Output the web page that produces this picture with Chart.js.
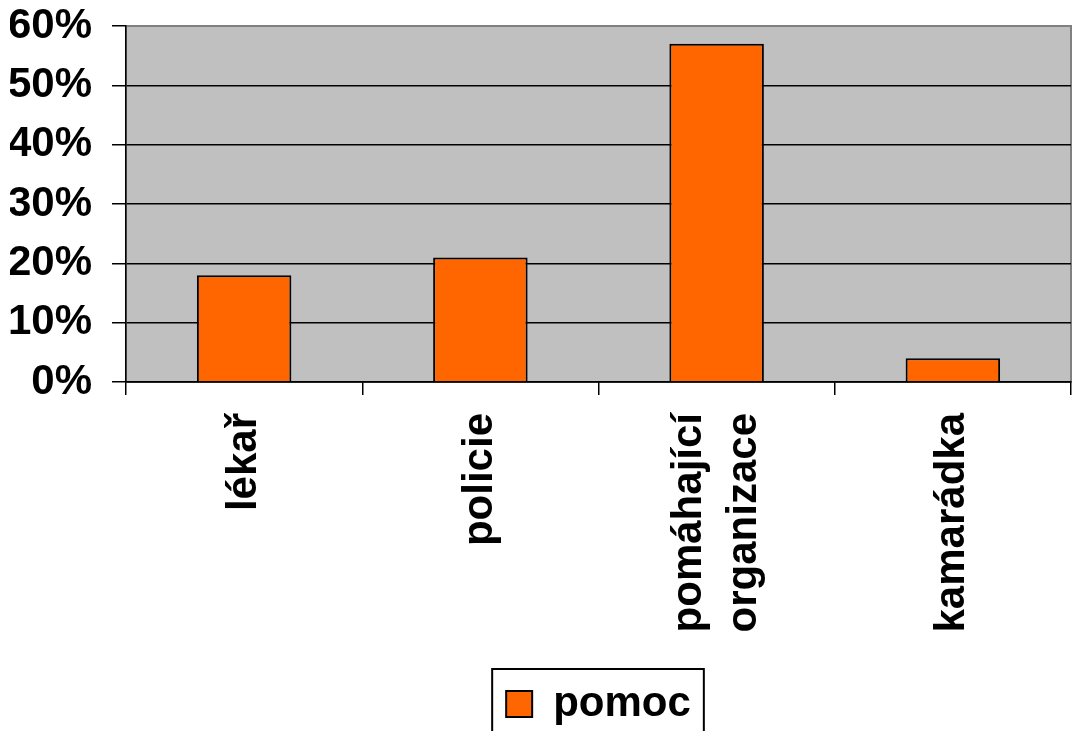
<!DOCTYPE html>
<html><head><meta charset="utf-8">
<script src="https://cdn.jsdelivr.net/npm/chart.js@4/dist/chart.umd.min.js"></script>
<style>html,body{margin:0;padding:0;background:#fff;overflow:hidden}</style>
</head><body>
<canvas id="chart" width="1073" height="735"></canvas>
<script>
const categories=['lékař','policie',['pomáhající','organizace'],'kamarádka'];
const pomoc=[18,21,57,4];
const yTicks=[0,10,20,30,40,50,60];
const seriesName='pomoc';

const font={family:'"Liberation Sans", Arial, sans-serif',size:42,weight:'bold',lineHeight:1.3};

// gray plot background + gray frame, black box round the legend,
// and two-line category labels centred on their tick
const frame={id:'frame',
  beforeDraw(c){const a=c.chartArea,x=c.ctx;x.save();
    x.fillStyle='#c0c0c0';x.fillRect(a.left,a.top,a.right-a.left,a.bottom-a.top);
    x.strokeStyle='#808080';x.lineWidth=2;x.strokeRect(a.left,a.top,a.right-a.left,a.bottom-a.top);
    x.restore();
    const lh=font.size*font.lineHeight;
    c.scales.x.getLabelItems().forEach(it=>{
      if(Array.isArray(it.label)&&!it._moved){it.options.translation[0]-=(it.label.length-1)*lh/2;it._moved=true;}
    });},
  afterDraw(c){const h=c.legend.legendHitBoxes[0];if(!h)return;const x=c.ctx;x.save();
    const cy=h.top+h.height/2;
    x.strokeStyle='#000';x.lineWidth=2;x.strokeRect(h.left-14,cy-35,h.width+27,100);x.restore();}
};

new Chart(document.getElementById('chart'),{
  type:'bar',
  data:{labels:categories,datasets:[{label:seriesName,data:pomoc,backgroundColor:'#ff6600',
    borderColor:'#000',borderWidth:2,barPercentage:0.4,categoryPercentage:1}]},
  options:{responsive:false,animation:false,devicePixelRatio:1,
    layout:{padding:{top:0,left:10,right:2}},
    plugins:{tooltip:{enabled:false},
      legend:{position:'bottom',fullSize:false,labels:{color:'#000',font,boxWidth:26,boxHeight:26,padding:10}}},
    scales:{
      x:{grid:{offset:true,drawOnChartArea:false,color:'#000',tickLength:13,lineWidth:1.5},
        border:{color:'#000',width:1.5},
        ticks:{color:'#000',font,minRotation:90,maxRotation:90,padding:18},
        afterFit(s){s.height=291;s.paddingLeft=0;s.paddingRight=0;}},
      y:{min:0,max:60,
        grid:{color:ctx=>ctx.tick&&ctx.tick.value===60?'rgba(0,0,0,0)':'#000',tickColor:'#000',tickLength:14,lineWidth:1.5},
        border:{color:'#000',width:1.5},
        afterBuildTicks(s){s.ticks=yTicks.map(v=>({value:v}));},
        afterFit(s){s.width=116;s.paddingTop=26;s.paddingBottom=0;},
        ticks:{color:'#000',font,padding:20,callback:v=>v+'%'}}
    }},
  plugins:[frame]
});
</script>
</body></html>
